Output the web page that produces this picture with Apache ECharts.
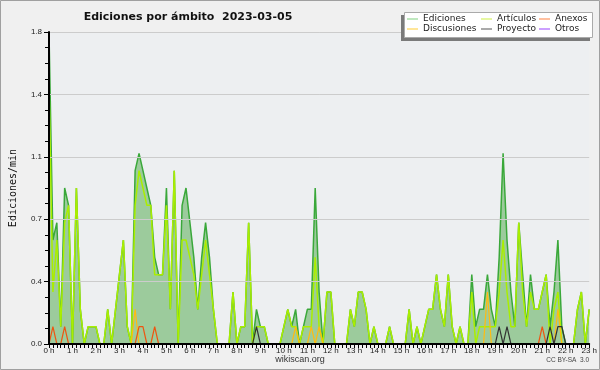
<!DOCTYPE html>
<html><head><meta charset="utf-8">
<script src="https://cdn.jsdelivr.net/npm/echarts@6/dist/echarts.min.js"></script>
<style>html,body{margin:0;padding:0;background:#f0f0f0}#c{width:600px;height:370px}</style>
</head><body><div id="c"></div>
<script>
// 10-minute slots, 0:00 .. 23:00
var times = [];
for (var i = 0; i <= 138; i++) { times.push(Math.floor(i / 6) + ':' + (i % 6) + '0'); }

var ediciones = [1.8,0.6,0.7,0.1,0.9,0.8,0,0.9,0.2,0,0.1,0.1,0.1,0,0,0.2,0,0.2,0.4,0.6,
0.1,0,1.0,1.1,1.0,0.9,0.8,0.5,0.4,0.4,0.9,0.2,1.0,0,0.8,0.9,0.7,0.5,0.2,0.5,
0.7,0.5,0.2,0,0,0,0,0.3,0,0.1,0.1,0.7,0,0.2,0.1,0.1,0,0,0,0,
0.1,0.2,0.1,0.2,0,0.1,0.2,0.2,0.9,0.3,0,0.3,0.3,0,0,0,0,0.2,0.1,0.3,
0.3,0.2,0,0.1,0,0,0,0.1,0,0,0,0,0.2,0,0.1,0,0.1,0.2,0.2,0.4,
0.2,0.1,0.4,0.1,0,0.1,0,0,0.4,0.1,0.2,0.2,0.4,0.2,0.1,0.5,1.1,0.6,0.3,0.1,
0.7,0.4,0.1,0.4,0.2,0.2,0.3,0.4,0.1,0.3,0.6,0.1,0,0,0,0.2,0.3,0,0.2];
var articulos = [1.5,0.3,0.6,0.1,0.7,0.8,0,0.9,0.2,0,0.1,0.1,0.1,0,0,0.2,0,0.2,0.4,0.6,
0.1,0,0.8,1.0,0.9,0.8,0.8,0.4,0.4,0.4,0.8,0.2,1.0,0,0.6,0.6,0.5,0.4,0.2,0.4,
0.6,0.4,0.2,0,0,0,0,0.3,0,0.1,0.1,0.7,0,0.1,0.1,0.1,0,0,0,0,
0.1,0.2,0.1,0.1,0,0.1,0.1,0.1,0.5,0.1,0,0.3,0.3,0,0,0,0,0.2,0.1,0.3,
0.3,0.2,0,0.1,0,0,0,0.1,0,0,0,0,0.2,0,0.1,0,0.1,0.2,0.2,0.4,
0.2,0.1,0.4,0.1,0,0.1,0,0,0.3,0,0.1,0.1,0.1,0.1,0.1,0.3,0.6,0.3,0.1,0.1,
0.7,0.3,0.1,0.3,0.2,0.2,0.3,0.4,0,0.2,0.3,0,0,0,0,0.2,0.3,0,0.2];
var anexos = [0,0.1,0,0,0.1,0,0,0,0,0,0,0,0,0,0,0,0,0,0,0,
0,0,0,0.1,0.1,0,0,0.1,0,0,0,0,0,0,0,0,0,0,0,0,
0,0,0,0,0,0,0,0,0,0,0,0,0,0,0,0,0,0,0,0,
0,0,0,0,0,0,0,0,0,0,0,0,0,0,0,0,0,0,0,0,
0,0,0,0,0,0,0,0,0,0,0,0,0,0,0,0,0,0,0,0,
0,0,0,0,0,0,0,0,0,0,0,0,0,0,0,0,0,0,0,0,
0,0,0,0,0,0,0.1,0,0,0,0,0,0,0,0,0,0,0,0];
var discusiones = [0,0,0,0,0,0,0,0,0,0,0,0,0,0,0,0,0,0,0,0,
0,0,0.2,0,0,0,0,0,0,0,0,0,0,0,0,0,0,0,0,0,
0,0,0,0,0,0,0,0,0,0,0,0,0,0,0,0,0,0,0,0,
0,0,0,0.1,0,0,0,0.1,0,0.1,0,0,0,0,0,0,0,0,0,0,
0,0,0,0,0,0,0,0,0,0,0,0,0,0,0,0,0,0,0,0,
0,0,0,0,0,0,0,0,0,0,0,0,0.3,0,0,0,0,0,0,0,
0,0,0,0,0,0,0,0,0,0,0.2,0,0,0,0,0,0,0,0];
var proyecto = [0,0,0,0,0,0,0,0,0,0,0,0,0,0,0,0,0,0,0,0,
0,0,0,0,0,0,0,0,0,0,0,0,0,0,0,0,0,0,0,0,
0,0,0,0,0,0,0,0,0,0,0,0,0,0.1,0,0,0,0,0,0,
0,0,0,0,0,0,0,0,0,0,0,0,0,0,0,0,0,0,0,0,
0,0,0,0,0,0,0,0,0,0,0,0,0,0,0,0,0,0,0,0,
0,0,0,0,0,0,0,0,0,0,0,0,0,0,0,0.1,0,0.1,0,0,
0,0,0,0,0,0,0,0,0.1,0,0.1,0.1,0,0,0,0,0,0,0];
var otros = [0,0,0,0,0,0,0,0,0,0,0,0,0,0,0,0,0,0,0,0,
0,0,0,0,0,0,0,0,0,0,0,0,0,0,0,0,0,0,0,0,
0,0,0,0,0,0,0,0,0,0,0,0,0,0,0,0,0,0,0,0,
0,0,0,0,0,0,0,0,0,0,0,0,0,0,0,0,0,0,0,0,
0,0,0,0,0,0,0,0,0,0,0,0,0,0,0,0,0,0,0,0,
0,0,0,0,0,0,0,0,0,0,0,0,0,0,0,0,0,0,0,0,
0,0,0,0,0,0,0,0,0,0,0,0,0,0,0,0,0,0,0];

var legendColors = {
  'Ediciones':'#7fd07f','Artículos':'#ccee44','Anexos':'#ff8040',
  'Discusiones':'#ffcc33','Proyecto':'#555555','Otros':'#9940ff'
};
function legendCol(left, names) {
  return {
    orient:'vertical', left:left, top:14, padding:0, itemGap:0,
    itemWidth:11, itemHeight:1, icon:'rect', selectedMode:false,
    textStyle:{fontFamily:'DejaVu Sans', fontSize:9, color:'#222', lineHeight:10},
    data: names.map(function(n){ return {name:n, itemStyle:{color:legendColors[n]}}; })
  };
}
function lineSeries(name, data, color, w, z) {
  return {name:name, type:'line', data:data, symbol:'none', z:z,
    lineStyle:{color:color, width:w}, itemStyle:{color:color}};
}

var chart = echarts.init(document.getElementById('c'), null, {renderer:'canvas'});
chart.setOption({
  animation:false,
  backgroundColor:'#f0f0f0',
  title:{text:'Ediciones por ámbito  2023-03-05', left:183, top:7, textAlign:'center',
    textStyle:{fontFamily:'DejaVu Sans', fontWeight:'bold', fontSize:11, color:'#111'}},
  graphic:[
    {type:'rect', shape:{x:0.5,y:0.5,width:599,height:369}, style:{fill:'none', stroke:'#a0a0a0', lineWidth:1}, z:100},
    {type:'rect', shape:{x:401,y:15,width:189,height:26}, style:{fill:'#7a7a7a'}, z:50},
    {type:'rect', shape:{x:404.5,y:12.5,width:188,height:25}, style:{fill:'#ffffff', stroke:'#aaaaaa', lineWidth:1}, z:51},
    {type:'text', left:'center', top:355, z:100, style:{text:'wikiscan.org', fontFamily:'Liberation Sans', fontSize:9, fill:'#333'}},
    {type:'text', right:11, top:357, z:100, style:{text:'CC BY-SA  3.0', fontFamily:'Liberation Sans', fontSize:6.5, fill:'#444'}}
  ],
  legend:[
    Object.assign(legendCol(407, ['Ediciones','Discusiones']), {z:60}),
    Object.assign(legendCol(481, ['Artículos','Proyecto']), {z:60}),
    Object.assign(legendCol(539, ['Anexos','Otros']), {z:60})
  ],
  grid:{left:47, right:10, top:32, bottom:26, show:true, backgroundColor:'#edeff1', borderWidth:0},
  xAxis:{type:'category', data:times, boundaryGap:false, z:10,
    axisLine:{lineStyle:{color:'#000', width:2}},
    axisTick:{show:true, interval:0, length:4, lineStyle:{color:'#000', width:1}},
    axisLabel:{interval:5, margin:3, fontFamily:'Liberation Sans', fontSize:8, color:'#222',
      formatter:function(v){ return parseInt(v,10) + ' h'; }},
    splitLine:{show:false}},
  yAxis:{type:'value', min:0, max:1.8, interval:0.36, z:10,
    name:'Ediciones/min', nameLocation:'middle', nameGap:31, nameRotate:90,
    nameTextStyle:{fontFamily:'DejaVu Sans Mono', fontSize:10, color:'#111'},
    axisLine:{show:true, lineStyle:{color:'#000', width:2}},
    axisTick:{show:true, length:5, lineStyle:{color:'#000'}},
    minorTick:{show:true, splitNumber:4, length:4, lineStyle:{color:'#000'}},
    axisLabel:{margin:7, fontFamily:'Liberation Sans', fontSize:8, color:'#222',
      formatter:function(v){ return v.toFixed(1); }},
    splitLine:{show:true, lineStyle:{color:'#cccccc', width:1}}},
  series:[
    Object.assign(lineSeries('Ediciones', ediciones, '#3aa83a', 1.5, 2), {areaStyle:{color:'#9ccb9c', opacity:1}}),
    lineSeries('Artículos', articulos, '#aaee00', 1.5, 3),
    lineSeries('Discusiones', discusiones, '#ffbb11', 1.2, 4),
    lineSeries('Anexos', anexos, '#ee5511', 1.2, 4),
    lineSeries('Proyecto', proyecto, '#333333', 1.2, 4),
    lineSeries('Otros', otros, '#9940ff', 1, 1)
  ]
});
</script></body></html>
